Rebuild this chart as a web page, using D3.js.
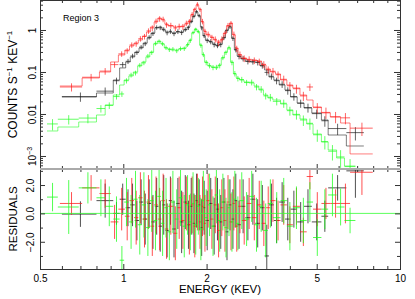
<!doctype html>
<html lang="en">
  <head>
    <meta charset="utf-8">
    <title>Region 3 spectrum</title>
    <style>
      body { margin: 0; background: #fff; }
      svg text { font-family: "Liberation Sans", Arial, Helvetica, sans-serif; fill: #000; }
    </style>
  </head>
  <body>
    <script src="https://cdn.jsdelivr.net/npm/d3@7"></script>
    <script>

// energy axis ticks (keV) and count-rate ticks
var xMajor   = [0.5, 1, 2, 5, 10];
var yMajor   = [1, 0.1, 0.01, 0.001];
var resMajor = [-2, 0, 2];
var resMinor = [-3, -1, 1, 3];

// black spectrum: bin edges (keV), model, data, relative error, residual, residual error
var blackEdges = [0.60,0.80,0.92,0.97,1.02,1.06,1.10,1.14,1.18,1.22,1.26,1.30,1.34,1.38,1.42,1.46,1.50,1.55,1.60,1.65,1.70,1.74,1.78,1.82,1.86,1.90,1.94,1.98,2.04,2.10,2.16,2.22,2.28,2.34,2.40,2.46,2.52,2.58,2.66,2.76,2.88,3.00,3.12,3.24,3.36,3.50,3.66,3.84,4.02,4.25,4.50,4.80,5.20,5.50,6.40,7.40];
var blackModel = [0.0254,0.0316,0.0645,0.125,0.173,0.228,0.299,0.373,0.490,0.645, 0.848,1.12,1.18,1.00,0.896,0.896,0.848,0.896,0.896,1.00, 1.18,1.55,2.15,2.68,2.15,1.18,0.720,0.578,0.518,0.464, 0.416,0.464,0.645,1.00,1.18,0.645,0.334,0.240,0.204,0.183, 0.173,0.173,0.139,0.112,0.0760,0.0645,0.0490,0.0373,0.0254,0.0183, 0.0139,0.0106,0.00720,0.00316,0.00173];
var blackData  = [0.026,0.035,0.062,0.150,0.180,0.240,0.290,0.390,0.470,0.670, 0.820,1.150,1.130,1.040,0.860,0.930,0.820,0.920,0.870,1.030, 1.140,1.600,2.100,2.750,2.200,1.120,0.740,0.560,0.530,0.450, 0.430,0.450,0.660,0.970,1.200,0.630,0.340,0.235,0.210,0.178, 0.176,0.168,0.143,0.098,0.079,0.062,0.051,0.036,0.026,0.018, 0.0142,0.0102,0.0069,0.0045,0.0036];
var blackErr   = [0.25,0.22,0.18,0.15,0.14,0.13,0.12,0.12,0.12,0.12, 0.12,0.12,0.12,0.12,0.13,0.13,0.13,0.13,0.13,0.12, 0.12,0.10,0.10,0.10,0.10,0.12,0.13,0.13,0.14,0.14, 0.14,0.14,0.13,0.12,0.12,0.13,0.14,0.15,0.15,0.15, 0.15,0.15,0.16,0.16,0.17,0.18,0.18,0.20,0.20,0.22, 0.24,0.25,0.28,0.30,0.35];
var blackRes    = [-0.05,0.9,0.0,1.0,0.4,0.6,-0.5,0.8,-0.4,0.7, -0.6,0.5,-0.9,0.6,-1.2,0.9,-1.1,0.7,-0.6,0.8, -0.8,0.5,-0.7,0.9,0.6,-1.0,0.4,-0.5,0.7,-0.9, 0.3,-0.6,0.8,-1.3,0.6,-0.4,0.9,-0.8,0.5,-0.3, 1.0,-0.7,0.4,-3.0,0.6,-0.5,0.8,-0.4,0.3,-0.6, 0.5,-0.6,-0.2,1.8,3.0];
var blackResErr = [0.9,1.2,0.8,1.1,1.3,1.5,1.4,1.6,1.8,1.7, 1.9,2.0,1.8,2.1,1.9,1.7,2.0,1.8,2.2,1.9, 1.7,2.0,2.1,1.9,1.8,2.0,1.9,2.1,1.8,2.0, 2.2,1.9,1.7,2.0,1.8,2.1,1.9,1.7,1.9,1.6, 1.8,1.7,1.6,2.2,1.5,1.6,1.4,1.5,1.3,1.4, 1.2,1.3,1.1,0.9,1.9];

// red spectrum
var redEdges = [0.59,0.71,0.82,0.90,0.96,1.013,1.053,1.093,1.133,1.173,1.213,1.253,1.293,1.333,1.373,1.413,1.453,1.517,1.567,1.617,1.667,1.713,1.753,1.793,1.833,1.873,1.913,1.953,1.993,2.06,2.12,2.18,2.24,2.30,2.36,2.42,2.48,2.54,2.60,2.68,2.79,2.91,3.04,3.16,3.28,3.40,3.55,3.70,3.90,4.10,4.35,4.60,4.85,5.20,5.60,6.10,6.60,7.97];
var redModel = [0.0464,0.0720,0.100,0.173,0.254,0.334,0.416,0.490,0.578,0.720, 0.896,1.18,1.55,1.93,1.73,1.39,1.24,1.18,1.18,1.24, 1.39,1.64,2.28,3.16,3.94,3.16,1.55,0.946,0.760,0.681, 0.578,0.518,0.578,0.848,1.24,1.47,0.760,0.373,0.254,0.215, 0.193,0.193,0.183,0.147,0.118,0.100,0.0896,0.0645,0.0490,0.0416, 0.0283,0.0215,0.0147,0.0106,0.00848,0.00610,0.00112];
var redData  = [0.044,0.075,0.105,0.150,0.270,0.320,0.440,0.470,0.620,0.700, 0.950,1.120,1.620,1.850,1.800,1.330,1.280,1.120,1.220,1.200, 1.450,1.580,2.350,3.050,4.100,3.050,1.600,0.920,0.790,0.660, 0.600,0.500,0.600,0.820,1.280,1.420,0.790,0.360,0.260,0.210, 0.200,0.188,0.176,0.152,0.113,0.104,0.086,0.067,0.047,0.040, 0.027,0.044,0.0142,0.0109,0.0086,0.0081,0.0046];
var redErr   = [0.22,0.20,0.18,0.16,0.15,0.15,0.15,0.15,0.15,0.15, 0.15,0.15,0.15,0.15,0.15,0.15,0.16,0.16,0.16,0.16, 0.15,0.15,0.13,0.12,0.12,0.12,0.15,0.16,0.16,0.16, 0.17,0.17,0.17,0.16,0.15,0.15,0.16,0.17,0.18,0.18, 0.18,0.18,0.18,0.19,0.20,0.20,0.20,0.22,0.22,0.24, 0.25,0.20,0.28,0.30,0.30,0.30,0.35];
var redRes    = [0.7,1.8,1.4,-0.6,0.3,-0.2,0.9,-0.3,1.1,-0.4, 0.8,-0.9,0.6,-0.4,0.9,-1.1,0.5,-1.4,0.4,-0.5, 0.7,-0.8,0.6,-0.9,0.8,-0.6,0.5,-0.7,0.9,-0.4, 0.6,-1.2,0.4,-0.5,0.8,-0.6,0.7,-0.9,0.5,-0.5, 0.7,-0.3,0.6,-0.7,0.4,0.9,-0.5,0.6,-0.8,0.5, -1.3,2.6,0.3,0.7,0.7,0.7,2.9];
var redResErr = [0.8,0.9,1.0,1.2,1.5,1.7,1.6,1.9,1.8,2.0, 1.9,2.1,2.0,2.2,1.9,2.1,2.0,1.9,2.2,2.0, 1.9,2.1,2.0,2.2,2.0,1.9,2.1,2.0,1.9,2.1, 2.0,1.9,2.0,2.2,1.9,2.0,1.9,1.8,1.9,1.7, 1.8,1.6,1.7,1.6,1.5,1.5,1.4,1.4,1.3,1.3, 1.0,0.9,1.2,1.1,1.0,1.4,1.6];

// green spectrum
var greenEdges = [0.53,0.58,0.69,0.80,0.86,0.92,0.97,1.007,1.047,1.087,1.127,1.167,1.207,1.247,1.287,1.327,1.367,1.407,1.447,1.487,1.535,1.585,1.635,1.687,1.727,1.767,1.807,1.847,1.887,1.927,1.967,2.02,2.08,2.14,2.20,2.26,2.32,2.38,2.44,2.50,2.56,2.63,2.73,2.85,2.97,3.09,3.21,3.33,3.47,3.70,3.90,4.10,4.35,4.60,4.85,5.20,5.50,5.90,6.30,6.90];
var greenModel = [0.00394,0.00490,0.00645,0.00947,0.0164,0.0283,0.0490,0.0645,0.0803,0.100, 0.139,0.173,0.228,0.299,0.464,0.547,0.464,0.373,0.353,0.334, 0.334,0.353,0.373,0.440,0.578,0.848,1.06,0.896,0.440,0.254, 0.173,0.139,0.132,0.125,0.147,0.215,0.299,0.373,0.173,0.0896, 0.0720,0.0645,0.0578,0.0547,0.0464,0.0373,0.0283,0.0240,0.0215,0.0173, 0.0125,0.00947,0.00760,0.00578,0.00334,0.00215,0.00139,0.000896,0.000578];
var greenData  = [0.0058,0.0075,0.0080,0.0135,0.0160,0.0260,0.0300,0.0620,0.0850,0.0950, 0.145,0.165,0.240,0.290,0.480,0.530,0.470,0.380,0.340,0.350, 0.320,0.360,0.360,0.450,0.560,0.870,1.030,0.920,0.430,0.260, 0.168,0.142,0.128,0.130,0.142,0.220,0.290,0.380,0.168,0.092, 0.070,0.066,0.056,0.057,0.044,0.039,0.027,0.025,0.020,0.018, 0.012,0.0098,0.0072,0.0060,0.0032,0.0022,0.0013,0.00095,0.00056];
var greenErr   = [0.30,0.25,0.25,0.20,0.18,0.15,0.15,0.14,0.13,0.13, 0.12,0.12,0.12,0.12,0.12,0.12,0.12,0.12,0.12,0.12, 0.12,0.12,0.12,0.12,0.12,0.10,0.10,0.10,0.12,0.13, 0.14,0.14,0.14,0.14,0.14,0.13,0.12,0.12,0.14,0.15, 0.15,0.16,0.16,0.16,0.17,0.18,0.18,0.20,0.20,0.22, 0.24,0.25,0.28,0.30,0.32,0.35,0.40,0.45,0.50];
var greenRes    = [1.15,0.45,1.8,1.1,0.5,-0.4,-3.3,0.8,-0.6,1.0, -0.8,0.6,-1.0,0.9,-0.5,1.2,-0.7,0.4,-1.3,0.8, -0.4,1.1,-0.9,0.6,-0.6,0.7,-0.8,0.5,-1.1,0.9, -0.3,0.6,-0.9,1.3,-0.5,0.8,-1.0,0.4,-0.6,1.0, -0.7,0.9,-0.4,1.2,-0.8,0.5,-1.2,0.7,-0.3,0.9, -0.9,0.4,-0.5,0.8,-1.7,0.3,1.3,0.45,-0.5];
var greenResErr = [1.0,1.9,1.1,1.3,1.4,1.6,1.0,1.7,1.9,2.0, 2.1,2.3,2.0,2.2,2.1,2.0,2.3,2.1,2.0,2.2, 2.1,2.0,2.2,2.1,2.0,2.2,2.1,2.0,2.2,2.1, 2.0,2.2,2.1,2.0,2.2,2.0,2.1,2.0,2.1,2.0, 1.9,2.0,1.9,1.8,1.9,1.8,1.9,1.7,1.8,1.6, 1.7,1.5,1.6,1.4,1.3,1.4,1.5,1.3,0.9];

var W = 415, H = 299;
var L = 40, R = 400, T = 0, M = 169, B = 269;

var svg = d3.select("body").append("svg")
    .attr("width", W)
    .attr("height", H);

var x  = d3.scaleLog().domain([0.5, 10]).range([L, R]);
var y  = d3.scaleLog().domain([4.9e-4, 5.18]).range([M, T]);
var yr = d3.scaleLinear().domain([-3.92, 3.13]).range([B, M]);

var defs = svg.append("defs");
defs.append("clipPath").attr("id", "clipTop").append("rect")
    .attr("x", L).attr("y", T).attr("width", R - L).attr("height", M - T);
defs.append("clipPath").attr("id", "clipRes").append("rect")
    .attr("x", L).attr("y", M).attr("width", R - L).attr("height", B - M);

var topG = svg.append("g").attr("clip-path", "url(#clipTop)");
var resG = svg.append("g").attr("clip-path", "url(#clipRes)");

var sets = [
    { color: "#1a1a1a", edges: blackEdges, model: blackModel, data: blackData, err: blackErr, res: blackRes, resErr: blackResErr },
    { color: "#ff1a1a", edges: redEdges,   model: redModel,   data: redData,   err: redErr,   res: redRes,   resErr: redResErr },
    { color: "#1aff1a", edges: greenEdges, model: greenModel, data: greenData, err: greenErr, res: greenRes, resErr: greenResErr }
];

// one cross per bin: horizontal bar over the bin, vertical bar lo..hi at the bin centre
function crosses(g, ys, edges, vals, lo, hi, color, opacity) {
    var bins = vals.map(function(v, i) {
        return { a: edges[i], b: edges[i + 1], v: v, lo: lo[i], hi: hi[i] };
    });
    var c = g.append("g").attr("stroke", color).attr("stroke-width", 0.85).attr("stroke-opacity", opacity);
    c.selectAll(".h").data(bins).enter().append("line")
        .attr("x1", function(d) { return x(d.a); })
        .attr("x2", function(d) { return x(d.b); })
        .attr("y1", function(d) { return ys(d.v); })
        .attr("y2", function(d) { return ys(d.v); });
    c.selectAll(".v").data(bins).enter().append("line")
        .attr("x1", function(d) { return x((d.a + d.b) / 2); })
        .attr("x2", function(d) { return x((d.a + d.b) / 2); })
        .attr("y1", function(d) { return ys(d.lo); })
        .attr("y2", function(d) { return ys(d.hi); });
}

var step = d3.line()
    .x(function(d) { return x(d[0]); })
    .y(function(d) { return y(d[1]); })
    .curve(d3.curveStepAfter);

sets.forEach(function(s) {
    var lo = s.data.map(function(v, i) { return v * (1 - s.err[i]); });
    var hi = s.data.map(function(v, i) { return v * (1 + s.err[i]); });
    crosses(topG, y, s.edges, s.data, lo, hi, s.color, 0.8);

    var pts = s.model.map(function(m, i) { return [s.edges[i], m]; });
    pts.push([s.edges[s.edges.length - 1], s.model[s.model.length - 1]]);
    topG.append("path")
        .attr("d", step(pts))
        .attr("fill", "none")
        .attr("stroke", s.color)
        .attr("stroke-opacity", 0.7)
        .attr("stroke-width", 0.8);

    var rlo = s.res.map(function(r, i) { return r - s.resErr[i]; });
    var rhi = s.res.map(function(r, i) { return r + s.resErr[i]; });
    crosses(resG, yr, s.edges, s.res, rlo, rhi, s.color, 0.9);
});

resG.append("line")
    .attr("x1", L).attr("x2", R)
    .attr("y1", yr(0)).attr("y2", yr(0))
    .attr("stroke", "#33ff33")
    .attr("stroke-width", 0.8);

// ---- axes: ticks point inward on every side ----
var xMinor = x.ticks().filter(function(v) { return xMajor.indexOf(v) < 0; });
var yMinor = y.ticks().filter(function(v) { return yMajor.every(function(m) { return Math.abs(m - v) > 1e-9; }); });

function ticks(gen, values, size, tx, ty) {
    var g = svg.append("g")
        .attr("transform", "translate(" + tx + "," + ty + ")")
        .call(gen.tickValues(values).tickSize(size).tickFormat(""));
    g.select(".domain").remove();
    g.selectAll("line").attr("stroke", "#333");
    return g;
}

// top panel
ticks(d3.axisLeft(y),  yMinor, -3, L, 0);
ticks(d3.axisLeft(y),  yMajor, -6, L, 0);
ticks(d3.axisRight(y), yMinor, -3, R, 0);
ticks(d3.axisRight(y), yMajor, -6, R, 0);
ticks(d3.axisTop(x),   xMinor, -3, 0, T);
ticks(d3.axisTop(x),   xMajor, -5, 0, T);
ticks(d3.axisBottom(x), xMinor, -3, 0, M);
ticks(d3.axisBottom(x), xMajor, -5, 0, M);
// residual panel
ticks(d3.axisTop(x),   xMinor, -3, 0, M);
ticks(d3.axisTop(x),   xMajor, -5, 0, M);
ticks(d3.axisBottom(x), xMinor, -3, 0, B);
ticks(d3.axisLeft(yr),  resMinor, -3, L, 0);
ticks(d3.axisLeft(yr),  resMajor, -5, L, 0);
ticks(d3.axisRight(yr), resMinor, -3, R, 0);
ticks(d3.axisRight(yr), resMajor, -5, R, 0);

// x labels
var xAxis = svg.append("g")
    .attr("transform", "translate(0," + B + ")")
    .call(d3.axisBottom(x).tickValues(xMajor).tickSize(-5).tickPadding(6).tickFormat(d3.format("")));
xAxis.select(".domain").remove();
xAxis.selectAll("line").attr("stroke", "#333");
xAxis.attr("font-family", null).selectAll("text").attr("font-size", 10);

// y labels (rotated)
var yAxis = svg.append("g")
    .attr("transform", "translate(" + L + ",0)")
    .call(d3.axisLeft(y).tickValues(yMajor).tickSize(0).tickFormat(d3.format("")));
yAxis.select(".domain").remove();
yAxis.attr("font-family", null).selectAll("text")
    .attr("font-size", 10)
    .attr("transform", "rotate(-90)")
    .attr("x", 0).attr("y", -4).attr("dy", 0)
    .attr("text-anchor", "middle")
    .each(function(d) {
        if (d === 0.001) {
            var t = d3.select(this).text("10");
            t.append("tspan").attr("dy", -4).attr("font-size", 7).text("−3");
        }
    });

var rAxis = svg.append("g")
    .attr("transform", "translate(" + L + ",0)")
    .call(d3.axisLeft(yr).tickValues(resMajor).tickSize(0));
rAxis.select(".domain").remove();
rAxis.attr("font-family", null).selectAll("text")
    .attr("font-size", 10)
    .attr("transform", "rotate(-90)")
    .attr("x", 0).attr("y", -6).attr("dy", 0)
    .attr("text-anchor", "middle");

// frame
var frame = svg.append("g").attr("stroke", "#333").attr("fill", "none");
frame.append("line").attr("x1", L + 0.5).attr("x2", L + 0.5).attr("y1", T).attr("y2", B + 0.5);
frame.append("line").attr("x1", R + 0.5).attr("x2", R + 0.5).attr("y1", T).attr("y2", B + 0.5);
frame.append("line").attr("x1", L).attr("x2", R + 1).attr("y1", T + 0.5).attr("y2", T + 0.5);
frame.append("line").attr("x1", L).attr("x2", R + 1).attr("y1", B + 0.5).attr("y2", B + 0.5);
svg.append("line")
    .attr("x1", L).attr("x2", R + 1).attr("y1", M).attr("y2", M)
    .attr("stroke", "#aaa").attr("stroke-width", 2);

// titles
var yt = svg.append("text")
    .attr("transform", "translate(17," + ((T + M) / 2) + ") rotate(-90)")
    .attr("text-anchor", "middle")
    .attr("font-size", 12);
yt.append("tspan").text("COUNTS S");
yt.append("tspan").attr("dy", -5).attr("font-size", 8).text("−1");
yt.append("tspan").attr("dy", 5).text(" KEV");
yt.append("tspan").attr("dy", -5).attr("font-size", 8).text("−1");

svg.append("text")
    .attr("transform", "translate(17," + ((M + B) / 2) + ") rotate(-90)")
    .attr("text-anchor", "middle")
    .attr("font-size", 11.5)
    .text("RESIDUALS");

svg.append("text")
    .attr("x", (L + R) / 2).attr("y", 293)
    .attr("text-anchor", "middle")
    .attr("font-size", 11.5)
    .text("ENERGY (KEV)");

svg.append("text")
    .attr("x", 63).attr("y", 21)
    .attr("font-size", 9)
    .text("Region 3");

    </script>
  </body>
</html>
